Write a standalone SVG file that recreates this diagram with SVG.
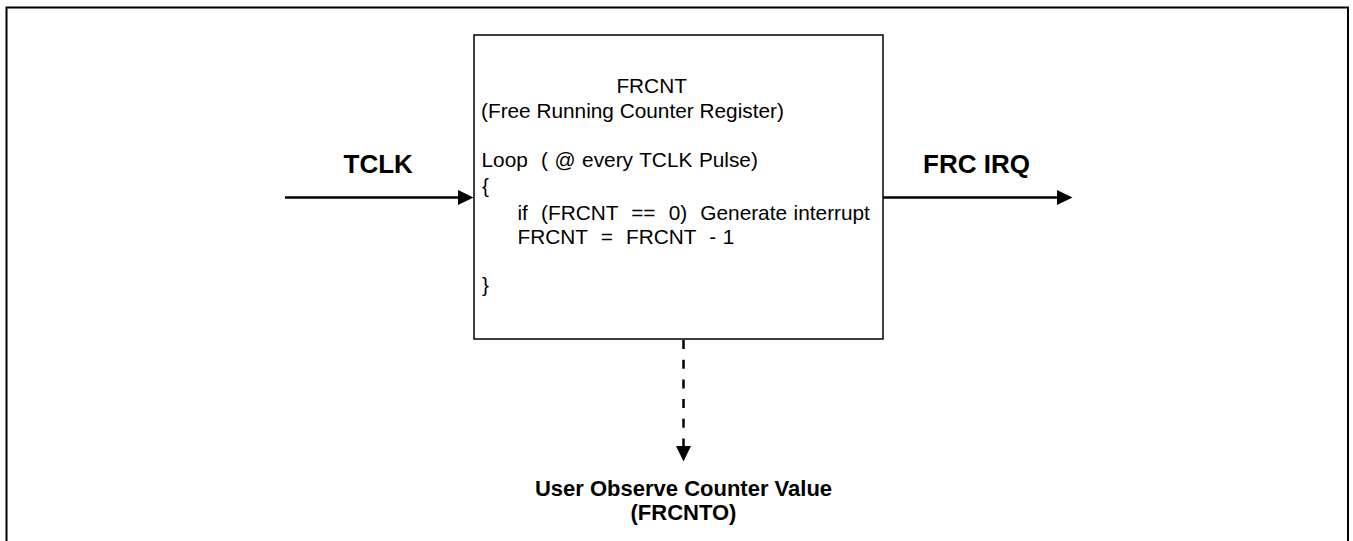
<svg xmlns="http://www.w3.org/2000/svg" width="1353" height="541" viewBox="0 0 1353 541">
  <style>
    .body { font-family: "Liberation Sans", Arial, sans-serif; font-size: 20.8px; fill: #000; white-space: pre; }
    .ws { word-spacing: 0.8px; }
    .big { font-family: "Liberation Sans", Arial, sans-serif; font-size: 26px; font-weight: bold; fill: #000; }
    .lbl { font-family: "Liberation Sans", Arial, sans-serif; font-size: 22px; font-weight: bold; fill: #000; text-anchor: middle; }
    .conn { stroke: #000; stroke-width: 2.5; fill: none; }
    .dash { stroke-dasharray: 9 10.7; }
  </style>
  <defs>
    <marker id="arrow" markerUnits="userSpaceOnUse" markerWidth="17" markerHeight="16" refX="0.5" refY="7.75" orient="auto">
      <path d="M0,0 L16,7.75 L0,15.5 Z" fill="#000"/>
    </marker>
  </defs>
  <rect x="0" y="0" width="1353" height="541" fill="#fff"/>
  <!-- outer frame -->
  <rect x="6.5" y="7.5" width="1341.5" height="545" fill="none" stroke="#000" stroke-width="2"/>

  <g id="connectors">
    <line class="conn" x1="285" y1="197.5" x2="458" y2="197.5" marker-end="url(#arrow)"/>
    <line class="conn" x1="883" y1="197.5" x2="1057" y2="197.5" marker-end="url(#arrow)"/>
    <line class="conn dash" x1="683.5" y1="340" x2="683.5" y2="446" marker-end="url(#arrow)"/>
  </g>

  <g id="frcnt">
    <rect x="474" y="35" width="409" height="304" fill="#fff" stroke="#000" stroke-width="1.5"/>
    <text class="body" x="616.4" y="92.7">FRCNT</text>
    <text class="body" x="481" y="117.7">(Free Running Counter Register)</text>
    <text class="body ws" x="481.5" y="166.7">Loop  ( @ every TCLK Pulse)</text>
    <text class="body" x="482" y="193">{</text>
    <text class="body ws" x="517.5" y="220">if  (FRCNT  ==  0)  Generate interrupt</text>
    <text class="body ws" x="517.5" y="244.3">FRCNT  =  FRCNT  - 1</text>
    <text class="body" x="482" y="291.5">}</text>
  </g>

  <g id="tclk">
    <text class="big" x="343.5" y="173.3">TCLK</text>
  </g>

  <g id="frc-irq">
    <text class="big" x="923" y="173.3">FRC IRQ</text>
  </g>

  <g id="user-observe">
    <text class="lbl" x="683.5" y="496">User Observe Counter Value</text>
    <text class="lbl" x="683.5" y="520">(FRCNTO)</text>
  </g>
</svg>
